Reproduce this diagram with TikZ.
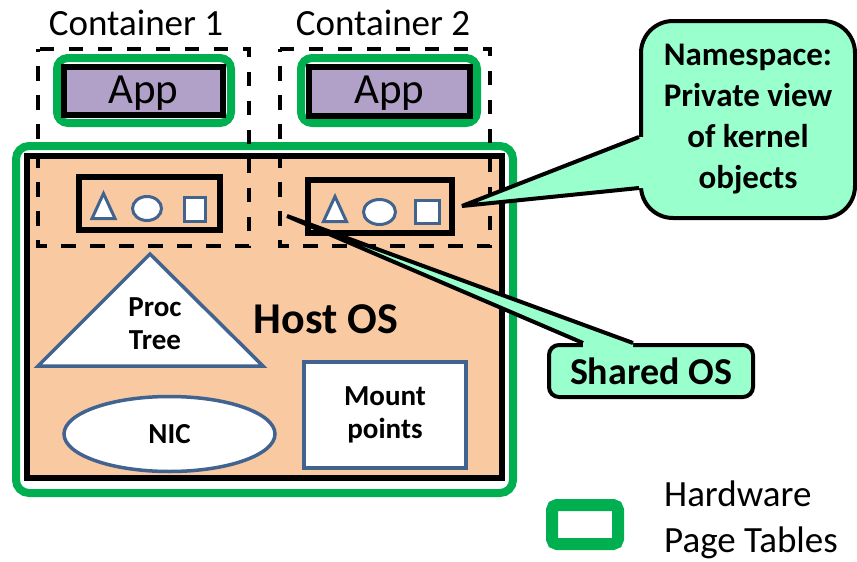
\documentclass[tikz,border=0pt]{standalone}
\usepackage{fontspec}
\setmainfont{Carlito}
\usetikzlibrary{shapes.geometric,calc}
\definecolor{hwgreen}{HTML}{00B050}
\definecolor{hostfill}{HTML}{F9C9A1}
\definecolor{appfill}{HTML}{B1A0C7}
\definecolor{calloutfill}{HTML}{99FFCC}
\definecolor{objblue}{HTML}{41638F}
\newcommand\fsz[2]{\fontsize{#1}{#2}\selectfont}
% dashed container frames, drawn as explicit paths
\newcommand\containerframes{%
  \draw[container] (38,49) -- (38,246) -- (249,246) -- (249,49) -- cycle;
  \draw[container] (280,49) -- (280,246) -- (490,246) -- (490,49) -- cycle;}
\tikzset{
  hwtable/.style={draw=hwgreen, line width=8pt, rounded corners=13pt, inner sep=0pt},
  appbox/.style={draw=black, line width=6pt, fill=appfill, inner sep=0pt, text height=28pt, text depth=4pt, font=\fsz{43}{50}},
  hostbox/.style={draw=black, line width=6pt, fill=hostfill, inner sep=0pt},
  nsbox/.style={draw=black, line width=5.5pt, fill=hostfill, inner sep=0pt},
  container/.style={draw=black, line width=4pt, dash pattern=on 14.5pt off 14.5pt, dash phase=12pt},
  kobj/.style={draw=objblue, line width=3pt, fill=white},
  kobjlabel/.style={inner sep=0pt, align=center, font=\bfseries\fsz{29}{33}},
  calloutbox/.style={draw=black, line width=4pt, fill=calloutfill, inner sep=0pt, align=center},
  pointer/.style={draw=black, line width=4pt, line join=bevel},
  plainlabel/.style={inner sep=0pt, font=\fsz{37}{46}},
}
\begin{document}
\begin{tikzpicture}[x=1pt,y=-1pt]
\useasboundingbox (0,0) rectangle (857,562);

% host kernel with its hardware page tables
\node[hwtable, minimum width=497pt, minimum height=347pt] (hostpt) at (264.5,319.5) {};
% container frames run over the green frame but under the host box
\containerframes
\node[hostbox, minimum width=475pt, minimum height=322pt] (host) at (264.5,317) {};
\node[inner sep=0pt, anchor=base, font=\bfseries\fsz{44}{50}] (hostlabel) at (326,333) {Host OS};

% container frames again, inside the host box
\begin{scope}
  \clip (30,159) rectangle (499,475);
  \containerframes
\end{scope}

% per-container namespaces
\node[nsbox, minimum width=141pt, minimum height=53pt] (ns1) at (149.5,203.5) {};
\node[nsbox, minimum width=144pt, minimum height=53pt] (ns2) at (380,206.5) {};

% kernel objects seen through each namespace
\draw[kobj] (103.5,193.5) -- (92,218.5) -- (115,218.5) -- cycle;
\draw[kobj] (147,208.5) ellipse [x radius=14.5, y radius=12];
\draw[kobj] (184.5,197.5) rectangle (205.5,221.5);
\draw[kobj] (335,196.5) -- (323.5,221.5) -- (346.5,221.5) -- cycle;
\draw[kobj] (379.5,212) ellipse [x radius=16, y radius=12.5];
\draw[kobj] (415.5,200.5) rectangle (439.5,223.5);

% shared kernel objects
\draw[kobj, line width=3.5pt] (150,254) -- (38,366) -- (263,366) -- cycle;
\node[kobjlabel] (proc) at (155,323.5) {Proc\\Tree};
\node[kobj, ellipse, line width=3.5pt, minimum width=211pt, minimum height=75pt, inner sep=0pt, font=\bfseries\fsz{29}{33}] (nic) at (169.5,434) {NIC};
\node[kobj, kobjlabel, line width=3.5pt, minimum width=162pt, minimum height=106pt] (mount) at (385,415) {Mount\\points};

% container labels
\node[plainlabel, anchor=base] (c1) at (136,35) {Container 1};
\node[plainlabel, anchor=base] (c2) at (383,35) {Container 2};

% applications with their own page tables
\node[hwtable, rounded corners=11pt, minimum width=174pt, minimum height=65pt] (pt1) at (144,90.5) {};
\node[appbox, minimum width=159pt, minimum height=48pt] (app1) at (143.5,91) {App};
\node[hwtable, rounded corners=11pt, minimum width=176pt, minimum height=65pt] (pt2) at (389,90.5) {};
\node[appbox, minimum width=161pt, minimum height=49pt] (app2) at (389.5,91) {App};

% namespace callout
\coordinate (nstip) at (462,206);
\node[calloutbox, rounded corners=32pt, minimum width=214pt, minimum height=197pt, font=\bfseries\fsz{33}{41}] (ns) at (748,119.5) {Namespace:\\Private view\\of kernel\\objects};
\fill[calloutfill] (nstip) -- ($(ns.west)+(0,17.5)$) -- ($(ns.west)+(5,17.5)$) -- ($(ns.west)+(5,68.5)$) -- ($(ns.west)+(0,68.5)$) -- cycle;
\draw[pointer] ($(ns.west)+(0,17.5)$) -- (nstip) -- ($(ns.west)+(0,68.5)$);

% shared OS callout
\coordinate (ostip) at (287,216);
\node[calloutbox, rounded corners=10pt, minimum width=204pt, minimum height=52pt, font=\bfseries\fsz{38}{44}] (os) at (651,371) {Shared OS};
\fill[calloutfill] (ostip) -- ($(os.north)+(-68,0)$) -- ($(os.north)+(-68,5)$) -- ($(os.north)+(-18,5)$) -- ($(os.north)+(-18,0)$) -- cycle;
\draw[pointer] ($(os.north)+(-68,0)$) -- (ostip) -- ($(os.north)+(-18,0)$);

% legend
\node[draw=hwgreen, line width=12pt, rounded corners=5pt, minimum width=66pt, minimum height=39pt, inner sep=0pt] (legendkey) at (585,524.5) {};
\node[plainlabel, align=left, anchor=west] (legendtext) at (664,520) {Hardware\\Page Tables};
\end{tikzpicture}
\end{document}
